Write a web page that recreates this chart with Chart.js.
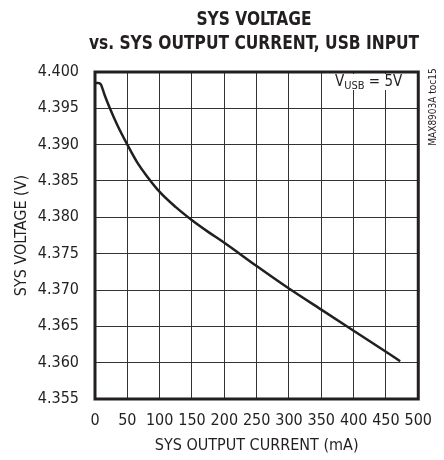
<!DOCTYPE html>
<html lang="en">
<head>
    <meta charset="UTF-8">
    <title>SYS VOLTAGE vs. SYS OUTPUT CURRENT</title>
    <script src="https://cdn.jsdelivr.net/npm/chart.js"></script>
    <style>
        body{ margin: 0; background: #fff; }
    </style>
</head>
<body>
    <canvas id="myChart" width="444" height="460"></canvas>
<script>
    const currentMA = [0, 5, 9, 15, 23, 35, 50, 65, 80, 100, 125, 150, 175, 200, 250, 300, 350, 400, 450, 472];
    const sysVoltage = [4.3985, 4.3985, 4.3983, 4.3968, 4.3950, 4.3926, 4.3900, 4.3876, 4.3857, 4.3835, 4.3814, 4.3796, 4.3780, 4.3765, 4.3733, 4.3702, 4.3673, 4.3644, 4.3615, 4.3602];
    const titleLines = ['SYS VOLTAGE', 'vs. SYS OUTPUT CURRENT, USB INPUT'];
    const xTitle = 'SYS OUTPUT CURRENT (mA)';
    const yTitle = 'SYS VOLTAGE (V)';

    const FONT = "'Liberation Sans Narrow', 'DejaVu Sans Condensed', sans-serif";
    const INK = '#231f20';

    const extras = {
        id: 'extras',
        afterDraw(chart) {
            const c = chart.ctx;
            const a = chart.chartArea;
            c.save();
            // heavy frame
            c.strokeStyle = INK;
            c.lineWidth = 3;
            c.strokeRect(a.left, a.top, a.right - a.left, a.bottom - a.top);
            // title, squeezed a bit to look like a condensed face
            c.fillStyle = INK;
            c.textAlign = 'center';
            c.textBaseline = 'middle';
            c.font = 'bold 20px ' + FONT;
            c.save();
            c.translate(254, 0);
            c.scale(0.86, 1);
            c.fillText(titleLines[0], 0, 20);
            c.fillText(titleLines[1], 0, 44);
            c.restore();
            // V_USB label
            c.fillStyle = '#fff';
            c.fillRect(331, 74, 72, 16);
            c.fillStyle = INK;
            c.textAlign = 'left';
            c.font = '15px ' + FONT;
            c.fillText('V', 335, 82);
            const wV = c.measureText('V').width;
            c.font = '11px ' + FONT;
            c.fillText('USB', 335 + wV, 86);
            const wS = c.measureText('USB').width;
            c.font = '15px ' + FONT;
            c.fillText(' = 5V', 335 + wV + wS, 82);
            // side note
            c.translate(433, 107);
            c.rotate(-Math.PI / 2);
            c.textAlign = 'center';
            c.font = '10px ' + FONT;
            c.fillText('MAX8903A toc15', 0, 0);
            c.restore();
        }
    };

    const ctx = document.querySelector('#myChart');
    const myChart = new Chart(ctx, {
        type: 'line',
        data: {
            datasets: [{
                data: currentMA.map((x, i) => ({x: x, y: sysVoltage[i]})),
                borderColor: INK,
                borderWidth: 2.5,
                pointRadius: 0,
                cubicInterpolationMode: 'monotone',
                fill: false
            }]
        },
        options: {
            responsive: false,
            animation: false,
            layout: { padding: { top: 72, right: 21, left: 0, bottom: 0 } },
            plugins: {
                legend: { display: false },
                tooltip: { enabled: false }
            },
            scales: {
                x: {
                    type: 'linear',
                    min: 0,
                    max: 500,
                    ticks: {
                        stepSize: 50, color: INK, padding: 12,
                        maxRotation: 0, minRotation: 0, autoSkip: false,
                        font: { family: FONT, size: 16 }
                    },
                    grid: { color: '#333', lineWidth: 1, drawTicks: false },
                    border: { display: false },
                    title: { display: true, text: xTitle, color: INK, font: { family: FONT, size: 16 }, padding: { top: 0, bottom: 5 } },
                    afterFit(scale) { scale.height = 61; }
                },
                y: {
                    min: 4.355,
                    max: 4.400,
                    ticks: {
                        stepSize: 0.005,
                        color: INK,
                        padding: 16,
                        font: { family: FONT, size: 16 },
                        callback: v => v.toFixed(3)
                    },
                    grid: { color: '#333', lineWidth: 1, drawTicks: false },
                    border: { display: false },
                    title: { display: true, text: yTitle, color: INK, font: { family: FONT, size: 16 }, padding: { top: 12, bottom: 0 } },
                    afterFit(scale) { scale.width = 95; }
                }
            }
        },
        plugins: [extras]
    });
</script>
</body>
</html>
